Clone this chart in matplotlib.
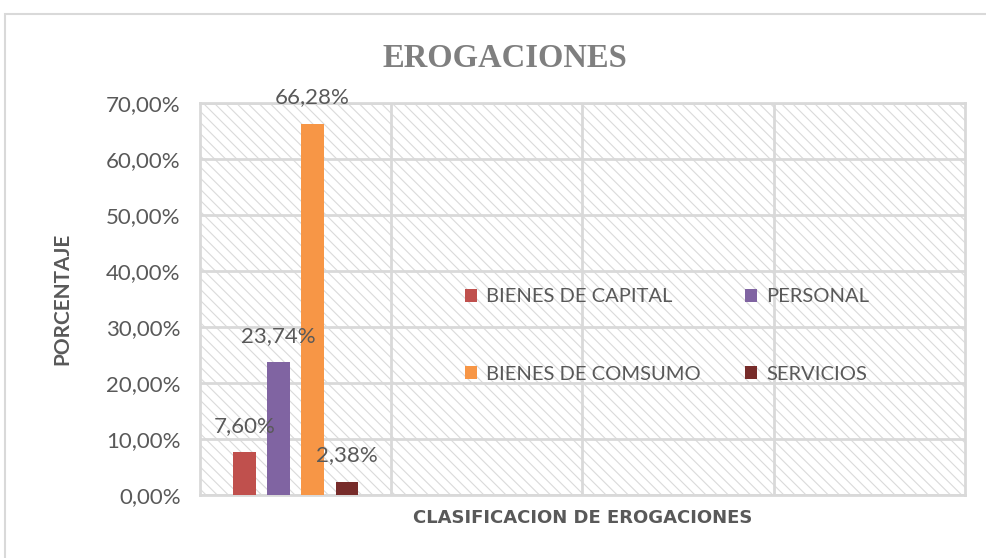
import matplotlib
matplotlib.use("agg")
import matplotlib.pyplot as plt
from matplotlib.patches import Rectangle
from matplotlib.ticker import FuncFormatter, MultipleLocator

categories = ["BIENES DE CAPITAL", "PERSONAL", "BIENES DE COMSUMO", "SERVICIOS"]
values = [7.60, 23.74, 66.28, 2.38]
colors = ["#C0504D", "#8064A2", "#F79646", "#772C2A"]
title = "EROGACIONES"
x_label = "CLASIFICACION DE EROGACIONES"
y_label = "PORCENTAJE"

grid_color = "#D9D9D9"
text_color = "#595959"
font = "Lato"

plt.rcParams["hatch.linewidth"] = 0.8
plt.rcParams["hatch.color"] = "#DADADA"

fig = plt.figure(figsize=(9.87, 5.58), dpi=100)
fig.patch.set_facecolor("white")
fig.add_artist(Rectangle((0.005, -0.01), 1.0, 0.985, transform=fig.transFigure,
                         fill=False, edgecolor="#D9D9D9", linewidth=1.5))

ax = fig.add_axes([0.2026, 0.1129, 0.7751, 0.7025])
ax.set_xlim(0, 4)
ax.set_ylim(0, 70)

# hatched plot area background
ax.add_patch(Rectangle((0, 0), 1, 1, transform=ax.transAxes, facecolor="white",
                       edgecolor="#DADADA", hatch="\\\\\\", linewidth=0, zorder=0))

offsets = [-0.268, -0.089, 0.089, 0.268]
width = 0.118
center = 0.5
bars = []
for offset, value, color, name in zip(offsets, values, colors, categories):
    bars.append(ax.bar(center + offset, value, width=width, color=color,
                       label=name, zorder=3))
    ax.annotate(f"{value:.2f}%".replace(".", ","), (center + offset, value),
                xytext=(0, 19), textcoords="offset points", ha="center", va="center",
                fontsize=16, color=text_color, family=font, zorder=4)

ax.yaxis.set_major_locator(MultipleLocator(10))
ax.yaxis.set_major_formatter(FuncFormatter(lambda v, _: f"{v:.2f}%".replace(".", ",")))
ax.set_xticks([1, 2, 3])
ax.set_xticklabels([])
ax.tick_params(axis="both", length=0, labelsize=16, labelcolor=text_color, pad=14)
for label in ax.get_yticklabels():
    label.set_family(font)
ax.grid(True, color=grid_color, linewidth=2, zorder=1)
for spine in ax.spines.values():
    spine.set_color(grid_color)
    spine.set_linewidth(2)

ax.set_xlabel(x_label, fontsize=13, fontweight="bold", color=text_color,
              family=["Liberation Sans Narrow", "DejaVu Sans"], labelpad=-4)
ax.set_ylabel(y_label, fontsize=15, fontweight="bold", color=text_color,
              family=font, labelpad=24)
fig.text(0.512, 0.895, title, ha="center", va="center", fontsize=23.5,
         fontweight="bold", color="#7F7F7F", family="Liberation Serif")

# matplotlib fills legend columns first, reorder so rows read like the original
order = [0, 2, 1, 3]
ax.legend([bars[i] for i in order], [categories[i] for i in order],
          loc="upper left", bbox_to_anchor=(0.346, 0.527), ncol=2, frameon=False,
          borderpad=0, borderaxespad=0, labelcolor=text_color,
          handlelength=0.6, handleheight=0.6, handletextpad=0.45,
          columnspacing=2.2, labelspacing=3.0,
          prop={"family": font, "size": 14.5})

fig.savefig("out.png", dpi=100)
